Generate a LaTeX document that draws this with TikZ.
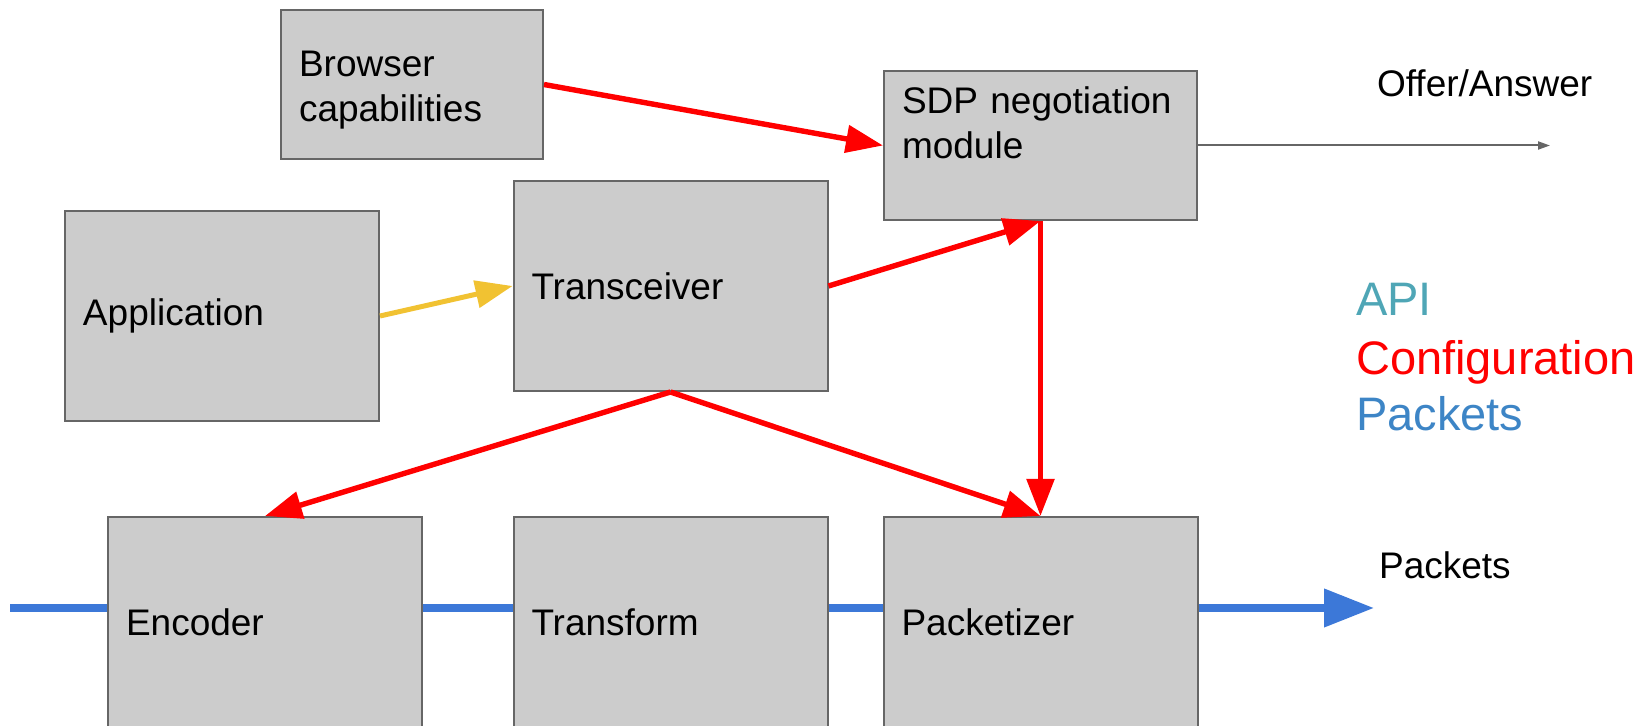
\documentclass[tikz,border=0pt]{standalone}
\usepackage{fontspec}
\setmainfont{Liberation Sans}
\usetikzlibrary{arrows.meta}
\definecolor{boxgray}{HTML}{CCCCCC}
\definecolor{boxline}{HTML}{666666}
\definecolor{pktblue}{HTML}{3C78D8}
\definecolor{apiteal}{HTML}{4FA6B6}
\definecolor{legblue}{HTML}{3D85C6}
\definecolor{appyellow}{HTML}{F1C232}
\tikzset{
    mybox/.style = {rectangle, draw=boxline, line width=1pt, fill=boxgray, align=left, inner xsep=9pt, inner ysep=0pt, font=\fontsize{18.5}{22.5}\selectfont},
    smallbox/.style = {mybox, text width=113pt, minimum height=74.5pt},
    sdpbox/.style = {mybox, text width=138.5pt, minimum height=74.5pt},
    bigbox/.style = {mybox, text width=139pt, minimum height=105pt},
    mytext/.style = {anchor=base west, font=\fontsize{18.5}{22.5}\selectfont},
    legtext/.style = {anchor=base west, font=\fontsize{23.5}{28}\selectfont},
    edger/.style = {-{Triangle[length=18.5pt,width=13.5pt]}, line width=2.7pt, red},
    edgey/.style = {-{Triangle[length=18.5pt,width=13.5pt]}, line width=2.5pt, appyellow},
    edgeb/.style = {line width=3.7pt, pktblue}, % packets
    edgebt/.style = {-{Triangle[length=25pt,width=18.5pt]}, line width=3.7pt, pktblue},
    edgeg/.style = {-{Triangle[length=6pt,width=4pt]}, line width=1pt, boxline} % offer/answer
}
\begin{document}
\begin{tikzpicture}[x=0.5pt,y=-0.5pt]
\useasboundingbox (0,0) rectangle (1645,726);
%
\node[smallbox] at (412,84.5) (brw) {\rule{0pt}{18.5pt}Browser\\capabilities};
\node[sdpbox] at (1040.5,145.5) (sdp) {SDP negotiation\\module\\\mbox{}};
\node[bigbox] at (222,316) (app) {Application};
\node[bigbox] at (670.5,286) (trx) {Transceiver};
\node[bigbox] at (265,622) (enc) {Encoder};
\node[bigbox] at (670.5,622) (trf) {Transform};
\node[bigbox] at (1040.5,622) (pkz) {Packetizer};
%
\node[mytext] at (1370,97) (offer) {Offer/Answer};
\node[mytext] at (1372,579) (pktlbl) {Packets};
\node[legtext, text=apiteal] at (1349,316) (legapi) {API};
\node[legtext, text=red] at (1349,375) (legcfg) {Configuration};
\node[legtext, text=legblue] at (1349,431) (legpkt) {Packets};
%
\coordinate (offerend) at (1550,145.5);
\coordinate (pin) at (10,608);
\coordinate (pout) at (1374,608);
%
\draw[edgeg] (sdp.east) -- (offerend);
\draw[edgey] (app.east) -- (trx.west);
\draw[edger] (brw.east) -- (sdp.west);
\draw[edger] (trx.east) -- (sdp.south);
\draw[edger] (sdp.south) -- (pkz.north);
\draw[edger] (trx.south) -- (enc.north);
\draw[edger] (trx.south) -- (pkz.north);
%
\draw[edgeb] (pin) -- (pin -| enc.west);
\draw[edgeb] (enc.east |- pin) -- (trf.west |- pin);
\draw[edgeb] (trf.east |- pin) -- (pkz.west |- pin);
\draw[edgebt] (pkz.east |- pin) -- (pout);

\end{tikzpicture}
\end{document}
